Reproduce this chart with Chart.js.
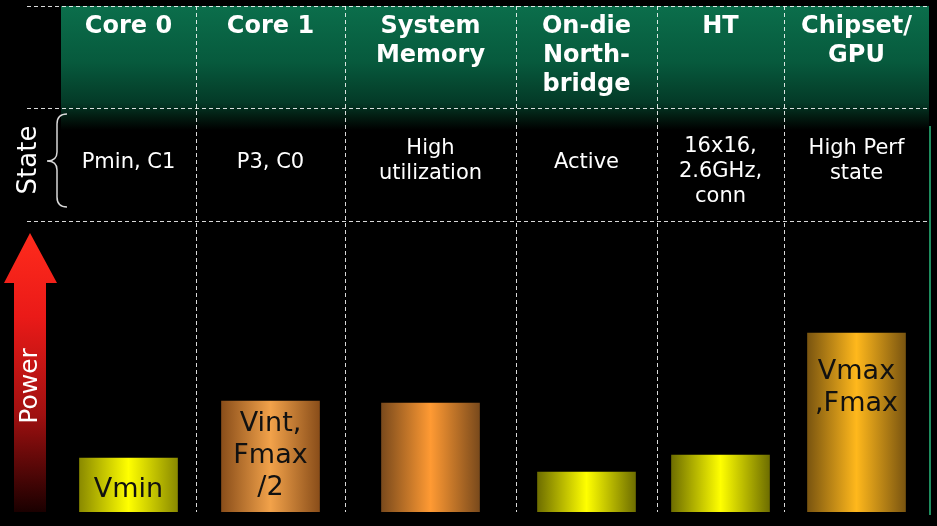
<!DOCTYPE html>
<html>
<head>
<meta charset="utf-8">
<script src="https://cdn.jsdelivr.net/npm/chart.js@4.4.1/dist/chart.umd.min.js"></script>
<style>
  html, body { margin: 0; padding: 0; background: #000; }
  canvas { display: block; }
</style>
</head>
<body>
<canvas id="chart" width="937" height="526"></canvas>
<script>
// --- data ---
const components = ['Core 0', 'Core 1', 'System Memory', 'On-die Northbridge', 'HT', 'Chipset/GPU'];
const headerLines = [['Core 0'], ['Core 1'], ['System', 'Memory'], ['On-die', 'North-', 'bridge'], ['HT'], ['Chipset/', 'GPU']];
const stateLines = [['Pmin, C1'], ['P3, C0'], ['High', 'utilization'], ['Active'], ['16x16,', '2.6GHz,', 'conn'], ['High Perf', 'state']];
const power = [54, 111, 109, 40, 57, 179];   // relative power
const barLabels = [['Vmin'], ['Vint,', 'Fmax', '/2'], [], [], [], ['Vmax', ',Fmax']];

// --- layout / styles ---
const colWidths = [135, 149, 171, 141, 127, 145];
let colEdges = [0];
colWidths.forEach(w => colEdges.push(colEdges[colEdges.length - 1] + w));
const colCenters = colWidths.map((w, i) => colEdges[i] + w / 2);
const totalW = colEdges[colEdges.length - 1];

const FONT = "'DejaVu Sans', Verdana, sans-serif";
const HEADER_BOTTOM = 108, STATE_BOTTOM = 221;

// [edge, centre] for each bar's horizontal shading
const barColors = [
  ['#8a8a00', '#ffff00'],
  ['#8a4e1a', '#f2a24a'],
  ['#7a4a1c', '#ff9a33'],
  ['#6e6e00', '#ffff00'],
  ['#6e6e00', '#ffff00'],
  ['#7a5510', '#ffb81c']
];

const dashLine = (c, x1, y1, x2, y2) => {
  c.beginPath(); c.moveTo(x1, y1); c.lineTo(x2, y2); c.stroke();
};

const slidePlugin = {
  id: 'slide',
  beforeDraw(chart) {
    const c = chart.ctx, a = chart.chartArea;
    c.save();
    c.fillStyle = '#000';
    c.fillRect(0, 0, chart.width, chart.height);
    // green header band fading into black
    let g = c.createLinearGradient(0, a.top, 0, 130);
    g.addColorStop(0, '#0b6e4b');
    g.addColorStop(0.45, '#075a3d');
    g.addColorStop(0.78, '#043a27');
    g.addColorStop(0.9, '#021a10');
    g.addColorStop(1, '#000000');
    c.fillStyle = g;
    c.fillRect(a.left, a.top, a.right - a.left, 130 - a.top);
    // green edge on the right
    c.strokeStyle = '#1f8c5e';
    c.lineWidth = 2;
    dashLine(c, a.right + 1, 126, a.right + 1, a.bottom + 3);
    c.restore();
  },
  afterDatasetsDraw(chart) {
    const c = chart.ctx, a = chart.chartArea, xs = chart.scales.x;
    c.save();

    // horizontal dashed rules
    c.strokeStyle = 'rgba(255,255,255,0.85)';
    c.lineWidth = 1;
    c.setLineDash([4, 3]);
    [a.top, HEADER_BOTTOM, STATE_BOTTOM].forEach(y => dashLine(c, 27, y + 0.5, a.right, y + 0.5));
    c.setLineDash([]);

    // column headers
    c.fillStyle = '#fff';
    c.textAlign = 'center';
    c.textBaseline = 'alphabetic';
    c.font = 'bold 24px ' + FONT;
    headerLines.forEach((lines, i) => {
      const x = xs.getPixelForValue(colCenters[i]);
      lines.forEach((t, k) => c.fillText(t, x, 33 + k * 29));
    });

    // state row
    c.font = '21px ' + FONT;
    stateLines.forEach((lines, i) => {
      const x = xs.getPixelForValue(colCenters[i]);
      const n = lines.length;
      const y0 = n > 2 ? 152 : 168 - (n - 1) * 14;
      lines.forEach((t, k) => c.fillText(t, x, y0 + k * 25));
    });

    // brace
    c.strokeStyle = '#d8d8d8';
    c.lineWidth = 1.5;
    c.beginPath();
    c.moveTo(67, 114);
    c.quadraticCurveTo(57, 114, 57, 124);
    c.lineTo(57, 152);
    c.quadraticCurveTo(57, 161, 47, 161);
    c.quadraticCurveTo(57, 161, 57, 170);
    c.lineTo(57, 197);
    c.quadraticCurveTo(57, 207, 67, 207);
    c.stroke();

    // power arrow
    let g = c.createLinearGradient(0, 233, 0, a.bottom);
    g.addColorStop(0, '#ff2b1c');
    g.addColorStop(0.3, '#ea1a18');
    g.addColorStop(0.65, '#a01010');
    g.addColorStop(1, '#1a0000');
    c.fillStyle = g;
    c.beginPath();
    c.moveTo(30, 233);
    c.lineTo(57, 283);
    c.lineTo(46, 283);
    c.lineTo(46, a.bottom);
    c.lineTo(14, a.bottom);
    c.lineTo(14, 283);
    c.lineTo(4, 283);
    c.closePath();
    c.fill();

    // rotated side labels
    c.fillStyle = '#fff';
    c.textBaseline = 'middle';
    [['State', 28, 160, 26], ['Power', 29, 386, 25]].forEach(([t, x, y, s]) => {
      c.save();
      c.translate(x, y);
      c.rotate(-Math.PI / 2);
      c.font = s + 'px ' + FONT;
      c.fillText(t, 0, 1);
      c.restore();
    });

    // bar labels
    c.fillStyle = '#111';
    c.textBaseline = 'alphabetic';
    c.font = '27px ' + FONT;
    chart.getDatasetMeta(0).data.forEach((bar, i) => {
      const lines = barLabels[i];
      if (!lines.length) return;
      const mid = Math.min((bar.y + bar.base) / 2 + 2, bar.y + 52);
      const first = mid + 10 - (lines.length - 1) * 16;
      lines.forEach((t, k) => c.fillText(t, bar.x, first + k * 32));
    });

    c.restore();
  }
};

new Chart(document.getElementById('chart'), {
  type: 'bar',
  data: {
    datasets: [{
      label: 'Power',
      data: power.map((v, i) => ({ x: colCenters[i], y: v })),
      barThickness: 98,
      borderWidth: 0,
      backgroundColor: (ctx) => {
        const chart = ctx.chart;
        const col = barColors[ctx.dataIndex] || barColors[0];
        if (!chart.chartArea || ctx.type !== 'data') return col[1];
        const cx = chart.scales.x.getPixelForValue(ctx.parsed.x);
        const g = chart.ctx.createLinearGradient(cx - 49, 0, cx + 49, 0);
        g.addColorStop(0, col[0]);
        g.addColorStop(0.5, col[1]);
        g.addColorStop(1, col[0]);
        return g;
      }
    }]
  },
  options: {
    responsive: false,
    animation: false,
    layout: { padding: { left: 61, right: 8, top: 6, bottom: 14 } },
    plugins: { legend: { display: false }, tooltip: { enabled: false } },
    scales: {
      x: {
        type: 'linear',
        min: 0,
        max: totalW,
        offset: false,
        afterBuildTicks: (axis) => { axis.ticks = colEdges.map(v => ({ value: v })); },
        ticks: { display: false },
        grid: {
          offset: false,
          drawTicks: false,
          lineWidth: 1,
          color: (ctx) => (ctx.tick && (ctx.tick.value === 0 || ctx.tick.value === totalW))
            ? 'rgba(0,0,0,0)' : 'rgba(255,255,255,0.85)'
        },
        border: { display: false, dash: [4, 3] }
      },
      y: { display: false, min: 0, max: 506 }
    }
  },
  plugins: [slidePlugin]
});
</script>
</body>
</html>
